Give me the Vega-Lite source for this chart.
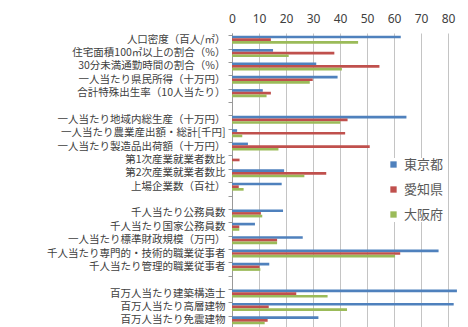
{
  "$schema": "https://vega.github.io/schema/vega-lite/v6.json",
  "autosize": {"type": "none"},
  "padding": {"left": 232, "top": 33, "right": 0, "bottom": 0},
  "width": 236,
  "height": 294,
  "background": "white",
  "config": {"view": {"stroke": null}, "font": "Noto Sans CJK JP"},
  "data": {"values": [
    {"cat": "人口密度（百人/㎡）", "pref": "東京都", "v": 62.5},
    {"cat": "人口密度（百人/㎡）", "pref": "愛知県", "v": 14.4},
    {"cat": "人口密度（百人/㎡）", "pref": "大阪府", "v": 46.7},
    {"cat": "住宅面積100㎡以上の割合（%）", "pref": "東京都", "v": 15.2},
    {"cat": "住宅面積100㎡以上の割合（%）", "pref": "愛知県", "v": 37.9},
    {"cat": "住宅面積100㎡以上の割合（%）", "pref": "大阪府", "v": 21.0},
    {"cat": "30分未満通勤時間の割合（%）", "pref": "東京都", "v": 31.2},
    {"cat": "30分未満通勤時間の割合（%）", "pref": "愛知県", "v": 54.6},
    {"cat": "30分未満通勤時間の割合（%）", "pref": "大阪府", "v": 40.7},
    {"cat": "一人当たり県民所得（十万円）", "pref": "東京都", "v": 39.1},
    {"cat": "一人当たり県民所得（十万円）", "pref": "愛知県", "v": 29.9},
    {"cat": "一人当たり県民所得（十万円）", "pref": "大阪府", "v": 28.8},
    {"cat": "合計特殊出生率（10人当たり）", "pref": "東京都", "v": 11.4},
    {"cat": "合計特殊出生率（10人当たり）", "pref": "愛知県", "v": 14.4},
    {"cat": "合計特殊出生率（10人当たり）", "pref": "大阪府", "v": 12.8},
    {"cat": "一人当たり地域内総生産（十万円）", "pref": "東京都", "v": 64.6},
    {"cat": "一人当たり地域内総生産（十万円）", "pref": "愛知県", "v": 42.8},
    {"cat": "一人当たり地域内総生産（十万円）", "pref": "大阪府", "v": 40.1},
    {"cat": "一人当たり農業産出額・総計[千円]", "pref": "東京都", "v": 1.9},
    {"cat": "一人当たり農業産出額・総計[千円]", "pref": "愛知県", "v": 41.9},
    {"cat": "一人当たり農業産出額・総計[千円]", "pref": "大阪府", "v": 3.8},
    {"cat": "一人当たり製造品出荷額（十万円）", "pref": "東京都", "v": 5.9},
    {"cat": "一人当たり製造品出荷額（十万円）", "pref": "愛知県", "v": 51.0},
    {"cat": "一人当たり製造品出荷額（十万円）", "pref": "大阪府", "v": 17.2},
    {"cat": "第1次産業就業者数比", "pref": "東京都", "v": 0.1},
    {"cat": "第1次産業就業者数比", "pref": "愛知県", "v": 2.8},
    {"cat": "第1次産業就業者数比", "pref": "大阪府", "v": 0.2},
    {"cat": "第2次産業就業者数比", "pref": "東京都", "v": 19.3},
    {"cat": "第2次産業就業者数比", "pref": "愛知県", "v": 34.9},
    {"cat": "第2次産業就業者数比", "pref": "大阪府", "v": 26.8},
    {"cat": "上場企業数（百社）", "pref": "東京都", "v": 18.4},
    {"cat": "上場企業数（百社）", "pref": "愛知県", "v": 2.5},
    {"cat": "上場企業数（百社）", "pref": "大阪府", "v": 4.3},
    {"cat": "千人当たり公務員数", "pref": "東京都", "v": 18.9},
    {"cat": "千人当たり公務員数", "pref": "愛知県", "v": 10.7},
    {"cat": "千人当たり公務員数", "pref": "大阪府", "v": 11.2},
    {"cat": "千人当たり国家公務員数", "pref": "東京都", "v": 8.5},
    {"cat": "千人当たり国家公務員数", "pref": "愛知県", "v": 2.7},
    {"cat": "千人当たり国家公務員数", "pref": "大阪府", "v": 2.7},
    {"cat": "一人当たり標準財政規模（万円）", "pref": "東京都", "v": 26.2},
    {"cat": "一人当たり標準財政規模（万円）", "pref": "愛知県", "v": 16.7},
    {"cat": "一人当たり標準財政規模（万円）", "pref": "大阪府", "v": 16.7},
    {"cat": "千人当たり専門的・技術的職業従事者", "pref": "東京都", "v": 76.5},
    {"cat": "千人当たり専門的・技術的職業従事者", "pref": "愛知県", "v": 62.3},
    {"cat": "千人当たり専門的・技術的職業従事者", "pref": "大阪府", "v": 60.4},
    {"cat": "千人当たり管理的職業従事者", "pref": "東京都", "v": 13.8},
    {"cat": "千人当たり管理的職業従事者", "pref": "愛知県", "v": 10.2},
    {"cat": "千人当たり管理的職業従事者", "pref": "大阪府", "v": 10.5},
    {"cat": "百万人当たり建築構造士", "pref": "東京都", "v": 83.3},
    {"cat": "百万人当たり建築構造士", "pref": "愛知県", "v": 23.8},
    {"cat": "百万人当たり建築構造士", "pref": "大阪府", "v": 35.4},
    {"cat": "百万人当たり高層建物", "pref": "東京都", "v": 82.1},
    {"cat": "百万人当たり高層建物", "pref": "愛知県", "v": 13.6},
    {"cat": "百万人当たり高層建物", "pref": "大阪府", "v": 42.6},
    {"cat": "百万人当たり免震建物", "pref": "東京都", "v": 32.0},
    {"cat": "百万人当たり免震建物", "pref": "愛知県", "v": 13.2},
    {"cat": "百万人当たり免震建物", "pref": "大阪府", "v": 12.1}
  ]},
  "mark": {"type": "bar"},
  "encoding": {
    "y": {
      "field": "cat", "type": "nominal",
      "scale": {
        "domain": [
          "人口密度（百人/㎡）", "住宅面積100㎡以上の割合（%）", "30分未満通勤時間の割合（%）", "一人当たり県民所得（十万円）", "合計特殊出生率（10人当たり）",
          " ",
          "一人当たり地域内総生産（十万円）", "一人当たり農業産出額・総計[千円]", "一人当たり製造品出荷額（十万円）", "第1次産業就業者数比", "第2次産業就業者数比", "上場企業数（百社）",
          "  ",
          "千人当たり公務員数", "千人当たり国家公務員数", "一人当たり標準財政規模（万円）", "千人当たり専門的・技術的職業従事者", "千人当たり管理的職業従事者",
          "   ",
          "百万人当たり建築構造士", "百万人当たり高層建物", "百万人当たり免震建物"
        ],
        "paddingInner": 0.4, "paddingOuter": 0.2
      },
      "axis": {
        "title": null, "labelFontSize": 10.5, "labelColor": "#404040",
        "labelPadding": 3, "tickSize": 4, "tickColor": "#999999", "bandPosition": 0,
        "domainColor": "#999999", "labelLimit": 260
      }
    },
    "yOffset": {"field": "pref", "type": "nominal", "sort": ["東京都", "愛知県", "大阪府"]},
    "x": {
      "field": "v", "type": "quantitative",
      "scale": {"domain": [0, 87.4], "nice": false},
      "axis": {
        "orient": "top", "title": null, "values": [0, 10, 20, 30, 40, 50, 60, 70, 80],
        "labelFontSize": 12, "labelColor": "#404040", "labelFont": "Noto Sans",
        "labelFlush": false, "labelPadding": 8, "ticks": false, "domain": false,
        "grid": true, "gridColor": "#c4c4c4"
      }
    },
    "color": {
      "field": "pref", "type": "nominal",
      "scale": {"domain": ["東京都", "愛知県", "大阪府"], "range": ["#4F81BD", "#C0504D", "#9BBB59"]},
      "legend": {
        "title": null, "orient": "none", "legendX": 155, "legendY": 125,
        "symbolType": "square", "symbolSize": 40, "labelFontSize": 13, "labelColor": "#595959",
        "rowPadding": 11, "padding": 0, "fillColor": "white"
      }
    }
  }
}
